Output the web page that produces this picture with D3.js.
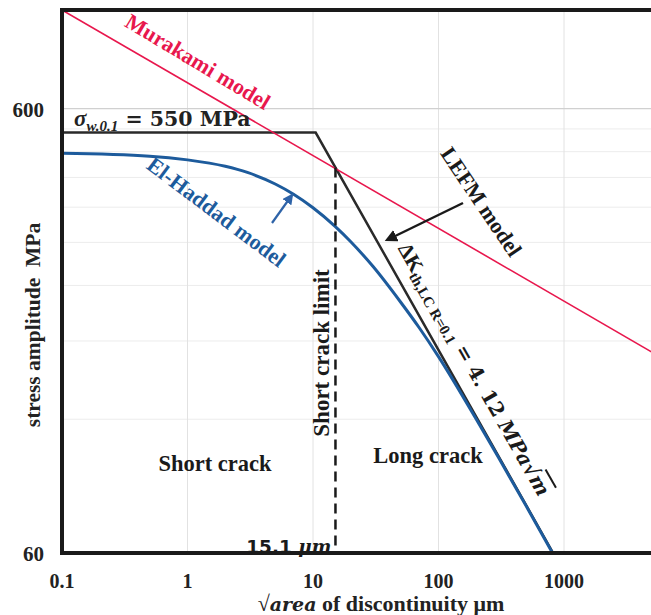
<!DOCTYPE html>
<html>
<head>
<meta charset="utf-8">
<script src="https://cdn.jsdelivr.net/npm/d3@7"></script>
<style>
  body { margin: 0; background: #fff; }
  svg { display: block; }
  text { font-family: "Liberation Serif", "Times New Roman", serif; font-weight: bold; }
</style>
</head>
<body>
<svg id="chart" width="651" height="615"></svg>
<script>
/* ---------------------------------------------------
   Data
--------------------------------------------------- */

const xTicks = [0.1, 1, 10, 100, 1000];
const xGrid = [1, 10, 100, 1000];
const yTicks = [60, 600];
const yMinor = [120, 180, 240, 300, 360, 420, 480, 540];

// Murakami model (straight line in log-log)
const murakamiX = [0.1, 5000];
const murakamiY = [1000, 170];

// fatigue limit + LEFM threshold line
const lefmX = [0.1, 10.5, 819];
const lefmY = [530, 530, 60];

// El-Haddad model
const haddadX = [0.1, 0.5, 1, 2, 3, 5, 7, 10, 15, 20, 30, 50, 70, 100, 200, 300, 500, 810];
const haddadY = [476, 469, 460, 445, 431, 406, 385, 359, 326, 301, 265, 220, 193, 166, 120, 98.5, 76.5, 60];

// short crack limit
const limitX = 15.1;
const limitY = [442, 60];

/* ---------------------------------------------------
   Setup
--------------------------------------------------- */

const svg = d3.select("#chart");
const padL = 62, padT = 10, padB = 553;

const x = d3.scaleLog()
  .domain([0.1, 5000])
  .range([padL, padL + Math.log10(50000) * 125.5]);

const y = d3.scaleLog()
  .domain([60, 1000])
  .range([padB, padT]);

const defs = svg.append("defs");
defs.append("clipPath").attr("id", "plot")
  .append("rect")
  .attr("x", padL).attr("y", padT)
  .attr("width", 651 - padL).attr("height", padB - padT);

function arrowMarker(id, colour) {
  defs.append("marker")
    .attr("id", id)
    .attr("viewBox", "0 0 10 10")
    .attr("refX", 8).attr("refY", 5)
    .attr("markerWidth", 5).attr("markerHeight", 5)
    .attr("orient", "auto")
    .append("path")
    .attr("d", "M0,0 L10,5 L0,10 Z")
    .attr("fill", colour);
}
arrowMarker("arrBlack", "#1a1a1a");
arrowMarker("arrBlue", "#2e63a8");

/* ---------------------------------------------------
   Grid
--------------------------------------------------- */

svg.append("g")
  .selectAll("line")
  .data(yMinor)
  .join("line")
  .attr("x1", padL).attr("x2", 651)
  .attr("y1", d => y(d)).attr("y2", d => y(d))
  .attr("stroke", "#ececec")
  .attr("stroke-width", 1);

svg.append("g")
  .selectAll("line")
  .data(xGrid)
  .join("line")
  .attr("x1", d => x(d)).attr("x2", d => x(d))
  .attr("y1", padT).attr("y2", padB)
  .attr("stroke", "#e2e2e2")
  .attr("stroke-width", 1);

svg.append("line")
  .attr("x1", padL).attr("x2", 651)
  .attr("y1", y(600)).attr("y2", y(600))
  .attr("stroke", "#d0d0d0")
  .attr("stroke-width", 1.2);

/* ---------------------------------------------------
   Lines
--------------------------------------------------- */

const plot = svg.append("g").attr("clip-path", "url(#plot)");

const line = d3.line()
  .x(d => x(d[0]))
  .y(d => y(d[1]));

plot.append("path")
  .datum(d3.zip(lefmX, lefmY))
  .attr("d", line.curve(d3.curveLinear))
  .attr("fill", "none")
  .attr("stroke", "#2a2a2a")
  .attr("stroke-width", 2.5);

plot.append("path")
  .datum(d3.zip(haddadX, haddadY))
  .attr("d", line.curve(d3.curveMonotoneX))
  .attr("fill", "none")
  .attr("stroke", "#1d5b9c")
  .attr("stroke-width", 3);

plot.append("path")
  .datum(d3.zip(murakamiX, murakamiY))
  .attr("d", line.curve(d3.curveLinear))
  .attr("fill", "none")
  .attr("stroke", "#e8174d")
  .attr("stroke-width", 1.6);

plot.append("line")
  .attr("x1", x(limitX)).attr("x2", x(limitX))
  .attr("y1", y(limitY[0])).attr("y2", y(limitY[1]))
  .attr("stroke", "#1a1a1a")
  .attr("stroke-width", 2.5)
  .attr("stroke-dasharray", "10,6");

/* ---------------------------------------------------
   Frame + axes
--------------------------------------------------- */

svg.append("path")
  .attr("d", `M653,${padT} H${padL} V${padB} H653`)
  .attr("fill", "none")
  .attr("stroke", "#1a1a1a")
  .attr("stroke-width", 4);

svg.append("g")
  .selectAll("text")
  .data(xTicks)
  .join("text")
  .attr("x", d => x(d))
  .attr("y", 588)
  .attr("text-anchor", "middle")
  .attr("font-size", 20)
  .attr("fill", "#222")
  .text(d => d);

svg.append("g")
  .selectAll("text")
  .data(yTicks)
  .join("text")
  .attr("x", 44)
  .attr("y", d => y(d) + 8)
  .attr("text-anchor", "end")
  .attr("font-size", 21)
  .attr("fill", "#222")
  .text(d => d);

svg.append("text")
  .attr("transform", "translate(40,325) rotate(-90)")
  .attr("text-anchor", "middle")
  .attr("font-size", 21.5)
  .attr("fill", "#222")
  .attr("xml:space", "preserve")
  .text("stress amplitude  MPa");

const xt = svg.append("text")
  .attr("x", 381).attr("y", 611)
  .attr("text-anchor", "middle")
  .attr("font-size", 22)
  .attr("fill", "#222");
xt.append("tspan").text("√");
xt.append("tspan").attr("font-style", "italic").attr("font-family", "DejaVu Serif").attr("font-size", 19).text("area");
xt.append("tspan").text(" of discontinuity μm");

/* ---------------------------------------------------
   Annotations
--------------------------------------------------- */

const sw = svg.append("text")
  .attr("x", 74).attr("y", 126)
  .attr("font-size", 23)
  .attr("fill", "#222");
sw.append("tspan").attr("font-style", "italic").text("σ");
sw.append("tspan").attr("font-style", "italic").attr("font-size", 15).attr("dy", 5).text("w.0.1");
sw.append("tspan").attr("dy", -5).attr("font-family", "DejaVu Serif").attr("font-size", 20.5).text(" = 550 MPa");

svg.append("text")
  .attr("transform", "translate(194,68) rotate(31)")
  .attr("text-anchor", "middle")
  .attr("font-size", 22)
  .attr("fill", "#e8174d")
  .text("Murakami model");

svg.append("text")
  .attr("transform", "translate(212,218) rotate(37)")
  .attr("text-anchor", "middle")
  .attr("font-size", 22)
  .attr("fill", "#1d5b9c")
  .text("El-Haddad model");

svg.append("line")
  .attr("x1", 272).attr("y1", 223)
  .attr("x2", 292).attr("y2", 195)
  .attr("stroke", "#2e63a8")
  .attr("stroke-width", 2.2)
  .attr("marker-end", "url(#arrBlue)");

svg.append("text")
  .attr("transform", "translate(475,206) rotate(56)")
  .attr("text-anchor", "middle")
  .attr("font-size", 22)
  .attr("fill", "#1a1a1a")
  .text("LEFM model");

svg.append("line")
  .attr("x1", 463).attr("y1", 203)
  .attr("x2", 387).attr("y2", 240)
  .attr("stroke", "#1a1a1a")
  .attr("stroke-width", 2.5)
  .attr("marker-end", "url(#arrBlack)");

const dk = svg.append("text")
  .attr("transform", "translate(468,373) rotate(60.5)")
  .attr("text-anchor", "middle")
  .attr("font-size", 21)
  .attr("fill", "#1a1a1a");
dk.append("tspan").text("ΔK");
dk.append("tspan").attr("font-size", 15).attr("dy", 4).text("th,LC R=0.1");
dk.append("tspan").attr("dy", -4).attr("font-family", "DejaVu Serif").attr("font-size", 20).text(" = 4. 12 ");
dk.append("tspan").attr("font-family", "DejaVu Serif").attr("font-style", "italic").attr("font-size", 20).text("MPa√");
dk.append("tspan").attr("font-family", "DejaVu Serif").attr("font-style", "italic").attr("font-size", 20)
  .attr("text-decoration", "overline").text("m");

svg.append("text")
  .attr("transform", "translate(329,353) rotate(-90)")
  .attr("text-anchor", "middle")
  .attr("font-size", 23)
  .attr("fill", "#1a1a1a")
  .text("Short crack limit");

svg.append("text")
  .attr("x", 215).attr("y", 471)
  .attr("text-anchor", "middle")
  .attr("font-size", 22.5)
  .attr("fill", "#1a1a1a")
  .text("Short crack");

svg.append("text")
  .attr("x", 428).attr("y", 463)
  .attr("text-anchor", "middle")
  .attr("font-size", 22.5)
  .attr("fill", "#1a1a1a")
  .text("Long crack");

const lim = svg.append("text")
  .attr("x", x(limitX) - 4).attr("y", 553)
  .attr("text-anchor", "end")
  .attr("font-size", 19)
  .attr("fill", "#1a1a1a");
lim.append("tspan").attr("font-family", "DejaVu Sans").attr("font-size", 18.5).text("15.1 ");
lim.append("tspan").attr("font-style", "italic").attr("font-family", "DejaVu Serif").attr("font-size", 18.5).text("μm");
</script>
</body>
</html>
